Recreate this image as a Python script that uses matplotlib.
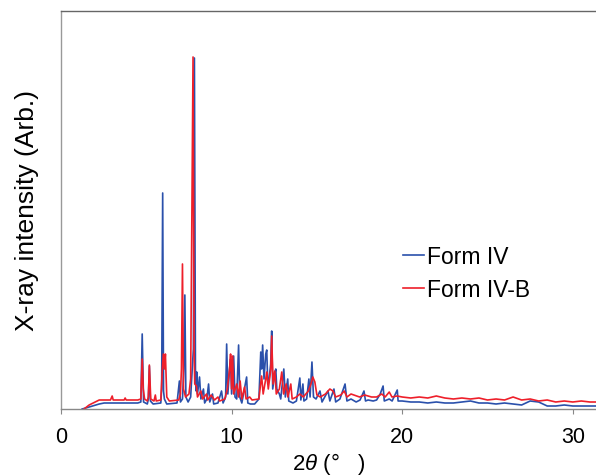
import matplotlib
matplotlib.use("Agg")
import matplotlib.pyplot as plt
import numpy as np

# ---- data (2theta in degrees, intensity in arb. units)
tt_iv = [1.24, 1.65, 2.24, 2.53, 3.5, 4.5, 4.68, 4.76, 4.84, 5.06, 5.12, 5.18, 5.24, 5.4,
         5.85, 5.9, 5.96, 6.01, 6.06, 6.2, 6.8, 6.94, 7.0, 7.12, 7.2, 7.26, 7.32, 7.45,
         7.6, 7.76, 7.82, 7.88, 7.92, 7.96, 8.0, 8.12, 8.2, 8.35, 8.42, 8.55, 8.65, 8.72,
         8.88, 8.95, 9.2, 9.41, 9.5, 9.65, 9.71, 9.78, 9.88, 9.94, 10.0, 10.12, 10.2,
         10.3, 10.41, 10.48, 10.6, 10.88, 10.95, 11.1, 11.35, 11.6, 11.71, 11.76, 11.82,
         11.9, 12.0, 12.06, 12.12, 12.2, 12.29, 12.35, 12.41, 12.53, 12.59, 12.65, 12.8,
         12.88, 13.06, 13.15, 13.29, 13.35, 13.6, 13.8, 14.0, 14.06, 14.18, 14.24, 14.4,
         14.53, 14.6, 14.71, 14.8, 14.95, 15.18, 15.3, 15.65, 15.76, 16.0, 16.1, 16.35,
         16.65, 16.76, 17.0, 17.3, 17.53, 17.76, 17.85, 18.0, 18.3, 18.5, 18.71, 18.88,
         18.95, 19.24, 19.41, 19.71, 19.76, 20.0, 20.5, 21.0, 21.5, 22.0, 22.5, 23.0,
         23.5, 24.0, 24.5, 25.0, 25.5, 26.0, 26.5, 27.0, 27.5, 28.0, 28.5, 29.0, 29.5,
         30.0, 30.5, 31.0, 31.5]
int_iv = [0, 2, 5, 6, 6, 6, 7, 75, 7, 5, 10, 43, 8, 5,
          6, 20, 216, 18, 10, 5, 6, 28, 7, 10, 40, 114, 12, 7,
          12, 60, 351, 40, 18, 37, 15, 32, 10, 20, 6, 10, 25, 7,
          15, 5, 6, 18, 6, 12, 65, 15, 40, 50, 15, 53, 12,
          10, 64, 12, 6, 32, 6, 5, 5, 10, 57, 40, 64,
          30, 55, 59, 25, 30, 45, 78, 20, 35, 40, 20, 15,
          10, 40, 12, 30, 8, 6, 8, 31, 9, 25, 8, 10,
          30, 12, 47, 12, 10, 18, 7, 18, 8, 20, 7, 10,
          25, 8, 10, 7, 9, 18, 8, 9, 8, 9, 15, 23,
          8, 10, 8, 19, 8, 8, 7, 7, 6, 7, 6, 6,
          7, 8, 6, 6, 5, 6, 5, 4, 8, 7, 3, 3, 4,
          3, 3, 3, 3]

tt_ivb = [1.35, 1.65, 2.0, 2.24, 2.9, 3.0, 3.06, 3.7, 3.76, 3.82, 4.5, 4.68, 4.76, 4.82,
          4.9, 5.06, 5.12, 5.18, 5.26, 5.45, 5.53, 5.58, 5.85, 5.94, 6.0, 6.06, 6.12,
          6.2, 6.35, 6.9, 7.0, 7.06, 7.12, 7.18, 7.3, 7.5, 7.6, 7.74, 7.8, 7.84, 7.94,
          8.0, 8.2, 8.3, 8.53, 8.6, 8.8, 9.0, 9.2, 9.3, 9.6, 9.75, 9.88, 9.94, 10.0,
          10.06, 10.12, 10.3, 10.4, 10.5, 10.6, 10.76, 10.85, 11.06, 11.2, 11.6, 11.7,
          11.76, 11.85, 12.0, 12.06, 12.15, 12.3, 12.35, 12.43, 12.53, 12.62, 12.8, 12.94,
          13.05, 13.2, 13.3, 13.47, 13.55, 13.8, 14.0, 14.2, 14.5, 14.65, 14.76, 14.88,
          15.0, 15.2, 15.5, 15.76, 15.94, 16.1, 16.4, 16.6, 16.76, 17.0, 17.5, 17.8,
          18.2, 18.5, 18.8, 19.0, 19.24, 19.4, 19.7, 20.0, 20.5, 21.0, 21.5, 22.0, 22.5,
          23.0, 23.5, 24.0, 24.5, 25.0, 25.5, 26.0, 26.5, 27.0, 27.5, 28.0, 28.5, 29.0,
          29.5, 30.0, 30.5, 31.0, 31.5]
int_ivb = [0, 4, 7, 9, 9, 13, 9, 9, 11, 9, 9, 10, 50, 20,
           10, 8, 12, 44, 10, 8, 14, 8, 9, 40, 55, 40, 55,
           12, 8, 9, 15, 40, 145, 20, 12, 15, 30, 352, 60, 25, 23,
           12, 18, 10, 15, 9, 14, 9, 12, 8, 10, 20, 40, 55, 20,
           53, 15, 25, 12, 28, 10, 22, 10, 12, 9, 10, 25,
           33, 15, 30, 37, 20, 40, 73, 25, 38, 15, 20, 37,
           15, 25, 12, 25, 10, 12, 15, 12, 18, 25, 32, 27,
           14, 12, 15, 20, 18, 12, 14, 18, 12, 15, 12, 14,
           12, 12, 15, 12, 17, 12, 13, 12, 11, 12, 11, 13, 11,
           10, 11, 10, 11, 9, 10, 9, 12, 9, 10, 8, 9, 7,
           8, 7, 8, 7, 7]

labels = ["Form IV", "Form IV-B"]
xticks = [0, 10, 20, 30]

plt.rcParams["font.family"] = ["Liberation Sans", "DejaVu Sans"]
plt.rcParams["mathtext.fontset"] = "custom"
plt.rcParams["mathtext.it"] = "Liberation Sans:italic"
plt.rcParams["mathtext.rm"] = "Liberation Sans"

fig = plt.figure(figsize=(5.96, 4.77), dpi=100)
ax = fig.add_axes([61/596, 1-410/477, 1-61/596, (410-12)/477])

ax.plot(tt_iv, int_iv, color="#2a50ab", lw=1.2, label=labels[0])
ax.plot(tt_ivb, int_ivb, color="#ee1f2a", lw=1.2, label=labels[1])

ax.set_xlim(0, 31.36)
ax.set_ylim(0, 398)
ax.set_xticks(xticks)
ax.set_yticks([])
ax.tick_params(axis="x", direction="out", length=3.6, width=0.8, color="#888888",
               labelsize=15.5, pad=9)

ax.spines["right"].set_visible(False)
ax.spines["top"].set_color("#666666")
ax.spines["left"].set_color("#999999")
ax.spines["bottom"].set_color("#888888")
for s in ["top", "left", "bottom"]:
    ax.spines[s].set_linewidth(1.0)

ax.set_xlabel(r"2$\mathit{\theta}$ (°   )", fontsize=16, labelpad=2)
ax.set_ylabel("X-ray intensity (Arb.)", fontsize=19, labelpad=16)

ax.legend(loc="upper left", bbox_to_anchor=(403/596, 1-246/477), bbox_transform=fig.transFigure,
          frameon=False, fontsize=16.5, handlelength=0.9, handletextpad=0.15,
          labelspacing=0.42, borderpad=0, borderaxespad=0)

fig.savefig("out.png", dpi=100)
